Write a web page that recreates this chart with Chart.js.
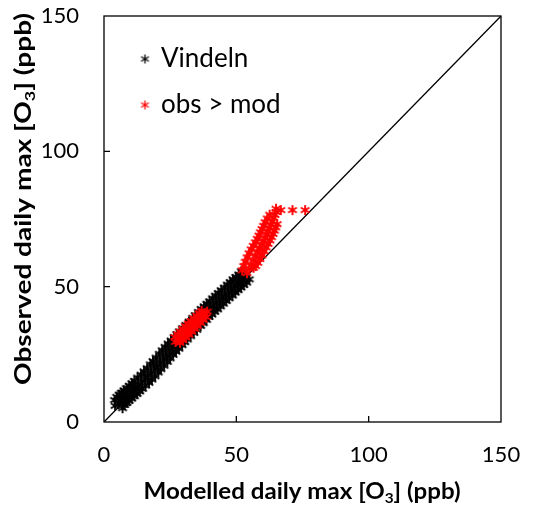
<!DOCTYPE html>
<html>
<head>
<meta charset="utf-8">
<script src="https://cdn.jsdelivr.net/npm/chart.js@4.4.1/dist/chart.umd.min.js"></script>
<style>
  html, body { margin: 0; padding: 0; background: #fff; }
</style>
</head>
<body>
<canvas id="chart" width="535" height="510"></canvas>
<script>
// modelled (x) vs observed (y) daily max O3, ppb
const axisTicks = [0, 50, 100, 150];

const blackMod = [
  4.2, 5.5, 6.3, 7.2, 8.0, 9.0, 10.0, 11.0, 12.0, 13.0, 14.2, 15.5, 16.6, 17.8, 19.0, 20.0, 21.2, 22.4, 23.5, 24.6,
  25.7, 26.8, 28.0, 29.0, 30.0, 31.2, 32.4, 33.6, 35.0, 36.0, 37.2, 38.2, 39.3, 40.3, 41.4, 42.5, 43.6, 44.7, 45.8, 47.0,
  48.1, 49.2, 50.3, 51.3, 52.4, 53.4,
  7.0, 7.8, 8.7, 9.5, 10.5, 11.5, 12.5, 13.5, 14.5, 15.7, 17.0, 18.1, 19.3, 20.5, 21.5, 22.7, 23.9, 25.0, 26.1, 27.2,
  28.3, 29.5, 30.5, 31.5, 32.7, 33.9, 35.1, 36.5, 37.5, 38.7, 39.7, 40.8, 41.8, 42.9, 44.0, 45.1, 46.2, 47.3, 48.5, 49.6,
  50.7, 51.8, 52.8, 53.9, 54.9,
  4.0, 4.8, 5.7, 6.5, 7.5, 8.5, 9.5, 10.5, 11.5, 12.7, 14.0, 15.1, 16.3, 17.5, 18.5, 19.7, 20.9, 22.0, 23.1, 24.2,
  25.3, 26.5, 27.5, 28.5, 29.7, 30.9, 32.1, 33.5, 34.5, 35.7, 36.7, 37.8, 38.8, 39.9, 41.0, 42.1, 43.2, 44.3, 45.5, 46.6,
  47.7, 48.7, 49.8, 50.9, 51.9
];
const blackObs = [
  6.0, 6.6, 7.8, 8.6, 9.3, 10.2, 11.0, 11.9, 12.8, 13.7, 14.9, 16.0, 17.2, 18.4, 19.8, 21.0, 22.3, 23.7, 25.0, 26.3,
  27.5, 28.6, 29.9, 31.0, 32.0, 33.2, 34.4, 35.6, 37.0, 38.0, 39.2, 40.3, 41.2, 42.2, 43.1, 44.2, 45.2, 46.2, 47.2, 48.2,
  49.3, 50.2, 51.2, 52.1, 53.0, 54.2,
  5.1, 6.3, 7.1, 7.8, 8.7, 9.5, 10.4, 11.3, 12.2, 13.4, 14.5, 15.7, 16.9, 18.3, 19.5, 20.8, 22.2, 23.5, 24.8, 26.0,
  27.1, 28.4, 29.5, 30.5, 31.7, 32.9, 34.1, 35.5, 36.5, 37.7, 38.8, 39.7, 40.7, 41.6, 42.7, 43.7, 44.7, 45.7, 46.7, 47.8,
  48.7, 49.7, 50.6, 51.5, 52.7,
  8.1, 9.3, 10.1, 10.8, 11.7, 12.5, 13.4, 14.3, 15.2, 16.4, 17.5, 18.7, 19.9, 21.3, 22.5, 23.8, 25.2, 26.5, 27.8, 29.0,
  30.1, 31.4, 32.5, 33.5, 34.7, 35.9, 37.1, 38.5, 39.5, 40.7, 41.8, 42.7, 43.7, 44.6, 45.7, 46.7, 47.7, 48.7, 49.7, 50.8,
  51.7, 52.7, 53.6, 54.5, 55.7
];

// days where obs > mod
const redMod = [
  27.0, 28.0, 29.0, 30.0, 31.0, 32.0, 33.0, 34.0, 35.0, 36.0, 37.0, 38.0, 39.0,
  26.8, 27.8, 28.8, 29.8, 30.8, 31.9, 32.9, 33.9, 35.0, 36.0, 36.9,
  28.7, 29.8, 30.9, 32.0, 33.1, 34.2, 35.3, 36.4, 37.5, 38.6,
  54.0, 54.9, 55.7, 56.5, 57.3, 58.1, 58.9, 59.7, 60.4, 61.0, 61.6, 62.1, 62.6, 63.1, 63.6, 64.1, 64.6, 65.0,
  52.2, 52.8, 53.4, 54.1, 54.8, 55.6, 56.4, 57.2, 57.9, 58.5, 59.1, 59.7, 60.3, 60.9, 61.7, 62.6,
  56.5, 57.3, 58.1, 58.9, 59.7, 60.5, 61.3, 62.0, 62.7, 63.3, 63.9, 64.4, 64.9, 65.4,
  65.0, 66.8, 71.2, 76.0
];
const redObs = [
  29.6, 30.4, 31.3, 32.3, 33.2, 34.2, 35.1, 36.0, 37.0, 38.1, 39.0, 40.0, 40.8,
  31.4, 32.4, 33.4, 34.4, 35.4, 36.4, 37.3, 38.3, 39.3, 40.2, 41.0,
  29.3, 30.2, 31.2, 32.2, 33.3, 34.4, 35.4, 36.6, 37.7, 38.8,
  55.0, 56.6, 58.2, 59.8, 61.4, 62.9, 64.3, 65.6, 66.9, 68.1, 69.3, 70.5, 71.7, 72.9, 74.1, 75.3, 76.5, 77.6,
  56.0, 57.6, 59.2, 60.8, 62.3, 63.8, 65.1, 66.4, 67.7, 68.9, 70.1, 71.3, 72.5, 73.8, 75.2, 76.6,
  57.0, 57.6, 58.8, 60.2, 61.6, 63.1, 64.5, 65.8, 67.1, 68.3, 69.5, 70.7, 71.9, 73.1,
  78.8, 78.3, 78.3, 78.3
];

const oneToOne = [0, 150];

const FONT = 'Lato, "Open Sans", sans-serif';

// asterisk marker like the Excel one (vertical bar + two diagonals)
function makeStar(color, size, lw) {
  const c = document.createElement('canvas');
  c.width = size; c.height = size;
  const g = c.getContext('2d');
  g.strokeStyle = color;
  g.lineWidth = lw;
  const m = size / 2, r = m - 1;
  g.beginPath();
  [90, 30, 150].forEach(a => {
    const t = a * Math.PI / 180;
    g.moveTo(m + r * Math.cos(t), m - r * Math.sin(t));
    g.lineTo(m - r * Math.cos(t), m + r * Math.sin(t));
  });
  g.stroke();
  return c;
}
const starBlack = makeStar('#000000', 12, 1.9);
const starRed = makeStar('#ff0000', 12, 1.9);
const legBlack = makeStar('#000000', 11, 1.3);
const legRed = makeStar('#ff0000', 11, 1.3);

const toPts = (xs, ys) => xs.map((x, i) => ({ x, y: ys[i] }));

// text with a subscript part, optionally stretched to a target width
function drawRich(ctx, parts, size, cx, cy, rotate, targetW) {
  ctx.save();
  ctx.translate(cx, cy);
  if (rotate) ctx.rotate(-Math.PI / 2);
  const fontOf = p => `bold ${p.sub ? Math.round(size * 0.62) : size}px ${FONT}`;
  let w = 0;
  parts.forEach(p => { ctx.font = fontOf(p); w += ctx.measureText(p.t).width; });
  if (targetW) ctx.scale(targetW / w, 1);
  ctx.fillStyle = '#000';
  ctx.textBaseline = 'middle';
  ctx.textAlign = 'left';
  let x = -w / 2;
  parts.forEach(p => {
    ctx.font = fontOf(p);
    ctx.fillText(p.t, x, p.sub ? size * 0.3 : 0);
    x += ctx.measureText(p.t).width;
  });
  ctx.restore();
}

const decor = {
  id: 'decor',
  afterDatasetsDraw(chart) {
    const { ctx, chartArea: a, scales } = chart;
    ctx.save();
    ctx.strokeStyle = '#000';
    ctx.lineWidth = 1.3;
    ctx.strokeRect(a.left, a.top, a.right - a.left, a.bottom - a.top);
    ctx.beginPath();
    axisTicks.slice(1, -1).forEach(v => {
      const px = scales.x.getPixelForValue(v);
      ctx.moveTo(px, a.bottom); ctx.lineTo(px, a.bottom - 6);
      const py = scales.y.getPixelForValue(v);
      ctx.moveTo(a.left, py); ctx.lineTo(a.left + 6, py);
    });
    ctx.stroke();
    ctx.restore();
  },
  afterDraw(chart) {
    const { ctx } = chart;
    // legend inside the plot
    ctx.save();
    ctx.drawImage(legBlack, 145 - 5.5, 59 - 5.5);
    ctx.drawImage(legRed, 145 - 5.5, 105 - 5.5);
    ctx.fillStyle = '#000';
    ctx.textBaseline = 'middle';
    ctx.font = `26px ${FONT}`;
    ctx.fillText('Vindeln', 161, 59);
    ctx.fillText('obs > mod', 161, 105);
    ctx.restore();

    drawRich(ctx, [{ t: 'Modelled daily max [O' }, { t: '3', sub: true }, { t: '] (ppb)' }], 22, 302, 492, false, 317);
    drawRich(ctx, [{ t: 'Observed daily max [O' }, { t: '3', sub: true }, { t: '] (ppb)' }], 22, 24, 199, true, 372);
  }
};

const tickFont = { family: FONT, size: 22 };

new Chart(document.getElementById('chart'), {
  type: 'scatter',
  data: {
    datasets: [
      { label: 'obs > mod', data: toPts(redMod, redObs), pointStyle: starRed, pointRadius: 6, order: 1 },
      { label: 'Vindeln', data: toPts(blackMod, blackObs), pointStyle: starBlack, pointRadius: 6, order: 2 },
      { type: 'line', label: '1:1', data: toPts(oneToOne, oneToOne), borderColor: '#000', borderWidth: 1.3,
        pointRadius: 0, fill: false, order: 3 }
    ]
  },
  options: {
    responsive: false,
    animation: false,
    layout: { padding: { left: 0, right: 34, top: 16, bottom: 0 } },
    plugins: { legend: { display: false }, tooltip: { enabled: false } },
    scales: {
      x: {
        type: 'linear', min: 0, max: 150,
        afterBuildTicks: s => { s.ticks = axisTicks.map(v => ({ value: v })); },
        afterFit: s => { s.height = 88; s.paddingLeft = 0; s.paddingRight = 0; },
        ticks: { font: tickFont, color: '#000', padding: 20, maxRotation: 0 },
        grid: { display: false, drawTicks: false },
        border: { display: false }
      },
      y: {
        type: 'linear', min: 0, max: 150,
        afterBuildTicks: s => { s.ticks = axisTicks.map(v => ({ value: v })); },
        afterFit: s => { s.width = 104; s.paddingTop = 0; s.paddingBottom = 0; },
        ticks: { font: tickFont, color: '#000', padding: 25 },
        grid: { display: false, drawTicks: false },
        border: { display: false }
      }
    }
  },
  plugins: [decor]
});
</script>
</body>
</html>
